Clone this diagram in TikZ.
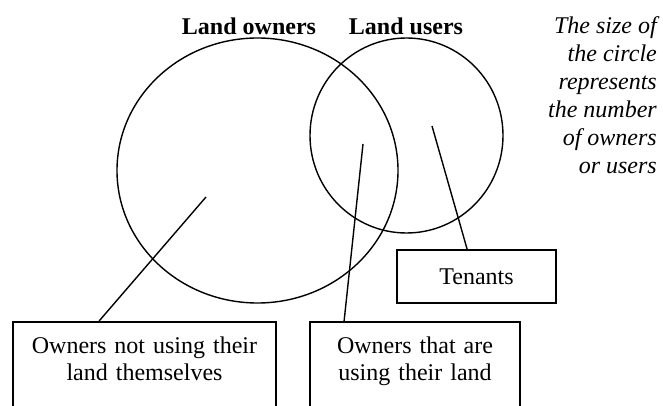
\documentclass[tikz,border=0pt]{standalone}
\usepackage{fontspec}
\setmainfont{Liberation Serif}
\usetikzlibrary{shapes.geometric}
\begin{document}
\begin{tikzpicture}[x=1pt,y=-1pt,
  setshape/.style={draw, ellipse, line width=1.4pt, inner sep=0pt},
  labelbox/.style={draw, line width=1.8pt, inner xsep=0pt, inner ysep=15pt, anchor=north,
    align=center, font=\fontsize{24}{27}\selectfont},
  titletext/.style={font=\fontsize{24}{28}\selectfont\bfseries, anchor=base, inner sep=0pt},
  connector/.style={line width=1.4pt}]
\useasboundingbox (0,0) rectangle (663,406);
\clip (0,0) rectangle (663,406);

\node[titletext] (tOwners) at (249,35) {Land owners};
\node[titletext] (tUsers) at (406,35) {Land users};

\node[anchor=north east, inner sep=0pt, align=right,
  font=\fontsize{24}{28}\selectfont\itshape] (note) at (657,16.5)
  {The size of\\the circle\\represents\\the number\\of owners\\or users};

\node[setshape, minimum width=281pt, minimum height=265pt] (owners) at (257.5,170.5) {};
\node[setshape, minimum width=193pt, minimum height=195pt] (users) at (406.5,135.5) {};

\node[labelbox, text width=263pt, text depth=70pt] (notusing) at (144.5,321)
  {Owners not using their\\land themselves};
\node[labelbox, text width=210pt, text depth=70pt] (using) at (415,321)
  {Owners that are\\using their land};
\node[draw, line width=1.8pt, minimum width=159pt, minimum height=53pt, inner sep=0pt,
  font=\fontsize{24}{27}\selectfont] (tenants) at (476.5,276.5) {Tenants};

\coordinate (pOwn) at (206,197);
\coordinate (pBoth) at (363,144);
\coordinate (pUse) at (432,126);

\draw[connector] (pOwn) -- ([xshift=87pt]notusing.north west);
\draw[connector] (pBoth) -- ([xshift=35pt]using.north west);
\draw[connector] (pUse) -- ([xshift=71pt]tenants.north west);
\end{tikzpicture}
\end{document}
